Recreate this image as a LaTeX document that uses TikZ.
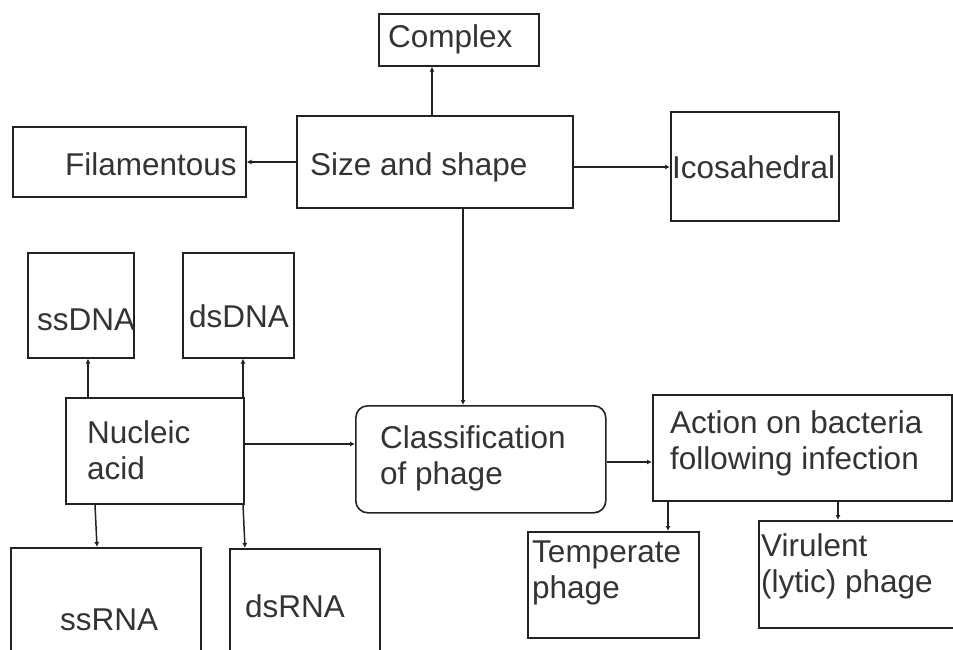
\documentclass[tikz,border=0pt]{standalone}
\usepackage{fontspec}
\setmainfont{Liberation Sans}
\usetikzlibrary{arrows.meta}
\definecolor{ink}{HTML}{222222}
\definecolor{txt}{HTML}{333333}
\tikzset{
  box/.style={draw=ink, line width=1.6pt, anchor=north west, inner sep=0pt},
  lbl/.style={anchor=west, inner sep=0pt, align=left, text=txt, font=\fontsize{31.5}{36}\selectfont},
  arr/.style={draw=ink, line width=1.5pt, -{Latex[length=5pt,width=5pt]}},
}
\newcommand{\mkbox}[6][]{\node[box,#1, minimum width=#4-#2, minimum height=#5-#3] (#6) at (#2,#3) {};}
\begin{document}
\begin{tikzpicture}[x=1pt,y=-1pt]
\useasboundingbox (0,0) rectangle (953,650);
% boxes
\mkbox{378}{13}{538}{65}{complex}
\mkbox{296}{115}{572}{207}{size}
\mkbox{12}{126}{245}{196}{fil}
\mkbox{670}{111}{838}{220}{ico}
\mkbox[rounded corners=12pt]{355}{405}{605}{512}{cls}
\mkbox{27}{252}{133}{357}{ssdna}
\mkbox{182}{252}{293}{357}{dsdna}
\mkbox{65}{397}{243}{503}{nuc}
\mkbox{10}{547}{200}{670}{ssrna}
\mkbox{229}{548}{379}{670}{dsrna}
\mkbox{652}{394}{951}{500}{action}
\mkbox{527}{531}{698}{637}{temp}
\mkbox{758}{520}{965}{627}{vir}
% texts
\node[lbl] (tcomplex) at (388,39) {Complex};
\node[lbl] (tsize) at (310,167) {Size and shape};
\node[lbl] (tfil) at (65,164) {Filamentous};
\node[lbl] (tico) at (672,167) {Icosahedral};
\node[lbl] (tssdna) at (37,320) {ssDNA};
\node[lbl] (tdsdna) at (189,316) {dsDNA};
\node[lbl] (tnuc) at (87,450) {Nucleic\\acid};
\node[lbl] (tcls) at (380,458) {Classification\\of phage};
\node[lbl] (tssrna) at (60,620) {ssRNA};
\node[lbl] (tdsrna) at (245,606) {dsRNA};
\node[lbl] (taction) at (670,443) {Action on bacteria\\following infection};
\node[lbl] (ttemp) at (532,573) {Temperate\\phage};
\node[lbl] (tvir) at (761,566) {Virulent\\(lytic) phage};
% helper coordinates
\coordinate (xa) at (432,0);
\coordinate (ya) at (0,162);
\coordinate (yb) at (0,167);
\coordinate (xb) at (463,0);
\coordinate (xc) at (88,0);
\coordinate (xd) at (243,0);
\coordinate (xd2) at (245,0);
\coordinate (yc) at (0,444);
\coordinate (xe) at (95,0);
\coordinate (xe2) at (97,0);
\coordinate (yd) at (0,462);
\coordinate (xf) at (668,0);
\coordinate (xg) at (838,0);
% connectors
\draw[arr] (size.north -| xa) -- (complex.south -| xa);
\draw[arr] (size.west |- ya) -- (fil.east |- ya);
\draw[arr] (size.east |- yb) -- (ico.west |- yb);
\draw[arr] (size.south -| xb) -- (cls.north -| xb);
\draw[arr] (nuc.north -| xc) -- (ssdna.south -| xc);
\draw[arr] (nuc.north -| xd) -- (dsdna.south -| xd);
\draw[arr] (nuc.east |- yc) -- (cls.west |- yc);
\draw[arr] (nuc.south -| xe) -- (ssrna.north -| xe2);
\draw[arr] (nuc.south -| xd) -- (dsrna.north -| xd2);
\draw[arr] (cls.east |- yd) -- (action.west |- yd);
\draw[arr] (action.south -| xf) -- (temp.north -| xf);
\draw[arr] (action.south -| xg) -- (vir.north -| xg);
\end{tikzpicture}
\end{document}
